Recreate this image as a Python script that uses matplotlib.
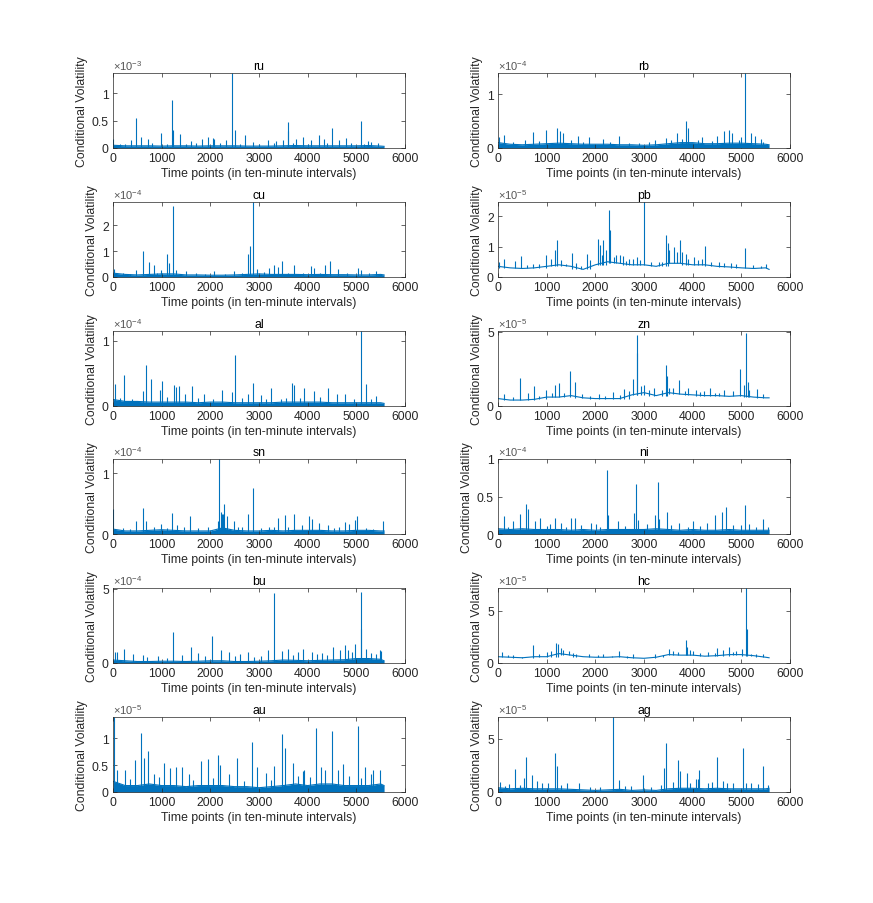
import numpy as np
import matplotlib.pyplot as plt

plt.rcParams['font.family'] = ['Liberation Sans', 'DejaVu Sans']
plt.rcParams['mathtext.fontset'] = 'custom'
plt.rcParams['mathtext.rm'] = 'Liberation Sans'
plt.rcParams['mathtext.it'] = 'Liberation Sans:italic'

BLUE = '#0072BD'
GREY = '#262626'
FS = 8.8

# baseline sample times (ten-minute index) for the slow part of each series
t_base = np.append(np.arange(0, 5501, 250), 5570)

# values are in units of 10^exp
ru_base = [0.05, 0.04, 0.04, 0.04, 0.035, 0.04, 0.04, 0.035, 0.04, 0.04, 0.04, 0.035,
           0.035, 0.035, 0.04, 0.045, 0.04, 0.04, 0.04, 0.04, 0.04, 0.045, 0.035, 0.03]
ru_t = [2440, 1210, 1228, 465, 3590, 3600, 5090, 4510, 2500, 990, 1375, 2715, 1950, 4225, 3900,
        3760, 4330, 718, 580, 3485, 4785, 4650, 2050, 1830, 2085, 3180, 4065, 2325, 5230, 5300,
        10, 360, 1600, 2870, 3355, 150, 250, 800, 1100, 1500, 1700, 2200, 2600, 3000, 3300,
        3700, 4000, 4400, 4900, 5150, 5450]
ru_h = [1.37, 0.88, 0.33, 0.55, 0.48, 0.31, 0.50, 0.37, 0.33, 0.28, 0.25, 0.23, 0.21, 0.23, 0.21,
        0.16, 0.17, 0.16, 0.20, 0.14, 0.18, 0.14, 0.19, 0.17, 0.17, 0.14, 0.15, 0.14, 0.13, 0.11,
        0.16, 0.14, 0.12, 0.11, 0.13, 0.08, 0.07, 0.09, 0.08, 0.07, 0.09, 0.10, 0.08, 0.07, 0.09,
        0.10, 0.08, 0.09, 0.10, 0.08, 0.09]

rb_base = [0.1, 0.07, 0.06, 0.07, 0.08, 0.09, 0.08, 0.07, 0.07, 0.07, 0.06, 0.06,
           0.05, 0.06, 0.08, 0.1, 0.1, 0.08, 0.08, 0.09, 0.09, 0.08, 0.07, 0.06]
rb_t = [5085, 3860, 3900, 1210, 1265, 1330, 990, 718, 4750, 4640, 4805, 3670, 2495, 1640, 1865,
        5195, 5285, 123, 20, 4510, 3450, 4200, 5000, 5400, 2150, 547, 3230,
        300, 850, 1500, 1750, 2300, 2700, 2900, 3100, 3550, 3780, 4100, 4400, 4950, 5450]
rb_h = [1.395, 0.51, 0.38, 0.38, 0.31, 0.28, 0.34, 0.30, 0.34, 0.31, 0.27, 0.28, 0.22, 0.23, 0.20,
        0.27, 0.23, 0.25, 0.20, 0.23, 0.19, 0.20, 0.21, 0.17, 0.17, 0.15, 0.15,
        0.12, 0.13, 0.14, 0.12, 0.11, 0.10, 0.10, 0.11, 0.14, 0.16, 0.14, 0.13, 0.15, 0.12]

cu_base = [0.15, 0.1, 0.08, 0.1, 0.12, 0.12, 0.08, 0.08, 0.07, 0.07, 0.08, 0.1,
           0.12, 0.1, 0.1, 0.1, 0.09, 0.1, 0.09, 0.09, 0.08, 0.08, 0.1, 0.08]
cu_t = [2870, 1230, 2815, 2770, 615, 1107, 1150, 738, 840, 3465, 4465, 3710, 4355, 4065, 4135,
        3300, 3390, 3205, 2960, 5025, 4615, 5105, 990, 1300, 478, 20, 1505, 2495, 5410, 2085,
        200, 350, 900, 1700, 1900, 2300, 2650, 3100, 3600, 3900, 4250, 4800, 5250]
cu_h = [2.9, 2.76, 1.19, 0.88, 1.02, 0.90, 0.55, 0.59, 0.45, 0.63, 0.63, 0.45, 0.48, 0.41, 0.36,
        0.45, 0.39, 0.36, 0.32, 0.36, 0.32, 0.28, 0.28, 0.26, 0.28, 0.32, 0.23, 0.23, 0.23, 0.23,
        0.15, 0.13, 0.16, 0.14, 0.12, 0.13, 0.15, 0.18, 0.17, 0.16, 0.15, 0.16, 0.14]

pb_base = [0.35, 0.3, 0.28, 0.3, 0.35, 0.4, 0.35, 0.25, 0.4, 0.5, 0.45, 0.4,
           0.4, 0.35, 0.45, 0.45, 0.4, 0.4, 0.35, 0.33, 0.3, 0.28, 0.3, 0.25]
pb_t = [2995, 2290, 2300, 3450, 3740, 1215, 2050, 2165, 1180, 3485, 2100, 4260, 5080, 3610, 1518,
        3520, 3685, 2220, 2130, 990, 1820, 2425, 2500, 2850, 2700, 3860, 3780, 4030, 465, 123,
        340, 1080, 1285, 1900, 4200, 4545, 4785, 5500, 2630, 3315, 1390, 718, 20,
        600, 850, 1600, 1700, 2380, 2560, 2780, 2920, 3150, 3380, 3900, 4100, 4380, 4650, 4900,
        5250, 5400]
pb_h = [2.46, 2.19, 1.53, 1.39, 1.22, 1.22, 1.26, 1.20, 0.87, 1.10, 1.04, 1.02, 0.96, 0.98, 0.79,
        0.87, 0.82, 0.87, 0.71, 0.73, 0.77, 0.73, 0.73, 0.66, 0.60, 0.77, 0.82, 0.66, 0.68, 0.60,
        0.52, 0.60, 0.55, 0.57, 0.60, 0.49, 0.46, 0.44, 0.52, 0.49, 0.44, 0.44, 0.49,
        0.40, 0.42, 0.45, 0.35, 0.65, 0.70, 0.60, 0.55, 0.50, 0.50, 0.60, 0.55, 0.48, 0.45, 0.42,
        0.38, 0.35]

al_base = [0.1, 0.07, 0.07, 0.06, 0.06, 0.06, 0.06, 0.05, 0.06, 0.06, 0.05, 0.05,
           0.05, 0.05, 0.06, 0.06, 0.06, 0.06, 0.05, 0.05, 0.05, 0.05, 0.05, 0.04]
al_t = [5090, 2510, 670, 225, 40, 785, 1005, 1250, 1300, 1360, 1620, 2880, 3670, 3725, 3245,
        2240, 2450, 5195, 4410, 4765, 3930, 4135, 957, 615, 1880, 1470, 3040, 5400, 4600, 2770,
        150, 400, 1100, 1750, 2050, 2650, 3150, 3450, 3550, 3850, 4250, 4950, 5300]
al_h = [1.15, 0.78, 0.63, 0.48, 0.34, 0.42, 0.39, 0.32, 0.29, 0.30, 0.30, 0.35, 0.35, 0.32, 0.28,
        0.25, 0.22, 0.33, 0.27, 0.19, 0.27, 0.23, 0.25, 0.23, 0.19, 0.19, 0.17, 0.15, 0.19, 0.18,
        0.12, 0.10, 0.14, 0.12, 0.10, 0.12, 0.11, 0.10, 0.13, 0.12, 0.14, 0.10, 0.11]

zn_base = [0.5, 0.4, 0.4, 0.45, 0.6, 0.6, 0.7, 0.55, 0.5, 0.5, 0.5, 0.75,
           0.9, 0.7, 0.9, 0.8, 0.75, 0.7, 0.7, 0.65, 0.7, 0.6, 0.55, 0.55]
zn_t = [5090, 2855, 2865, 3460, 3475, 4975, 1475, 445, 1580, 2775, 2995, 3725, 1245, 1175, 730,
        3210, 4065, 4360, 2590, 5330, 5130, 990, 2360, 4650, 4240, 3895, 1730, 615, 123, 2085,
        3370, 4820, 5160, 2940, 3520,
        300, 850, 1100, 1350, 1900, 2200, 2500, 2700, 3100, 3600, 3850, 4150, 4450, 4550, 5050,
        5450]
zn_h = [4.9, 4.78, 3.6, 2.78, 2.04, 2.49, 2.33, 1.89, 1.60, 1.82, 1.44, 1.78, 1.56, 1.44, 1.38,
        1.22, 1.10, 1.20, 1.16, 1.16, 1.60, 1.07, 0.93, 1.10, 1.00, 1.22, 0.84, 0.89, 0.78, 0.78,
        1.07, 1.00, 1.10, 1.33, 1.22,
        0.6, 0.7, 0.9, 0.85, 0.7, 0.7, 0.75, 1.0, 1.1, 1.2, 1.0, 0.95, 0.9, 0.85, 1.4, 0.8]

sn_base = [0.08, 0.05, 0.05, 0.06, 0.07, 0.06, 0.05, 0.05, 0.05, 0.1, 0.06, 0.05,
           0.05, 0.06, 0.05, 0.06, 0.06, 0.06, 0.05, 0.05, 0.06, 0.06, 0.05, 0.05]
sn_t = [2185, 2870, 2290, 2240, 615, 1210, 1585, 2340, 2780, 3710, 3535, 3385, 4020, 5010, 4975,
        5, 685, 478, 1310, 980, 2480, 2575, 4240, 4080, 4410, 4765, 4855, 5555, 3875, 1950,
        3200, 2150, 2215, 2270,
        200, 350, 850, 1100, 1450, 1750, 2650, 3050, 3300, 3600, 4550, 4650, 5200, 5350]
sn_h = [1.23, 0.76, 0.50, 0.33, 0.43, 0.34, 0.29, 0.29, 0.32, 0.33, 0.31, 0.27, 0.30, 0.29, 0.23,
        0.41, 0.22, 0.21, 0.15, 0.16, 0.21, 0.12, 0.18, 0.25, 0.15, 0.19, 0.16, 0.22, 0.15, 0.12,
        0.11, 0.21, 0.36, 0.32,
        0.10, 0.09, 0.11, 0.10, 0.12, 0.10, 0.12, 0.10, 0.11, 0.12, 0.10, 0.11, 0.10, 0.09]

ni_base = [0.07, 0.06, 0.07, 0.06, 0.06, 0.06, 0.05, 0.06, 0.05, 0.06, 0.06, 0.06,
           0.06, 0.07, 0.06, 0.05, 0.06, 0.05, 0.05, 0.06, 0.05, 0.05, 0.05, 0.05]
ni_t = [2235, 3295, 2845, 580, 5080, 620, 4695, 3470, 4600, 2790, 4465, 3225, 445, 123, 855,
        1505, 1585, 1175, 2270, 2880, 3310, 5450, 4285, 4010, 3725, 1915, 2015, 1300, 1060, 752,
        308, 2460, 5160, 4835, 3060,
        200, 1000, 1400, 1700, 2100, 2600, 3550, 3900, 4150, 5000, 5300, 5550]
ni_h = [0.86, 0.69, 0.67, 0.40, 0.39, 0.34, 0.36, 0.29, 0.30, 0.28, 0.25, 0.26, 0.27, 0.24, 0.21,
        0.22, 0.21, 0.21, 0.25, 0.19, 0.20, 0.20, 0.15, 0.17, 0.15, 0.15, 0.14, 0.15, 0.13, 0.18,
        0.17, 0.17, 0.14, 0.12, 0.13,
        0.10, 0.11, 0.10, 0.12, 0.10, 0.11, 0.12, 0.10, 0.11, 0.12, 0.10, 0.09]

bu_base = [0.2, 0.15, 0.1, 0.1, 0.12, 0.12, 0.1, 0.12, 0.15, 0.15, 0.1, 0.1,
           0.12, 0.15, 0.2, 0.18, 0.15, 0.18, 0.2, 0.22, 0.3, 0.3, 0.25, 0.15]
bu_t = [3315, 5090, 1235, 2030, 5100, 4975, 4765, 225, 48, 90, 1605, 2770, 3190, 3590, 3895,
        4520, 4670, 5200, 5490, 5515, 1745, 2210, 2390, 410, 1415, 3470, 4080, 4285, 3810, 2600,
        4920, 4835, 615, 920,
        700, 1100, 1900, 2500, 2900, 3050, 3700, 4200, 4400, 5300, 5400]
bu_h = [4.71, 4.78, 2.09, 1.79, 2.30, 1.30, 1.19, 0.96, 0.74, 0.74, 1.08, 0.74, 0.90, 0.96, 0.96,
        1.08, 0.90, 0.96, 0.85, 0.81, 0.67, 0.90, 0.74, 0.58, 0.52, 0.81, 0.74, 0.67, 0.74, 0.63,
        0.74, 0.85, 0.52, 0.45,
        0.40, 0.35, 0.45, 0.50, 0.40, 0.45, 0.55, 0.60, 0.55, 0.65, 0.60]

hc_base = [0.6, 0.55, 0.5, 0.6, 0.6, 0.9, 0.75, 0.6, 0.55, 0.55, 0.6, 0.5,
           0.45, 0.55, 0.8, 0.75, 0.75, 0.65, 0.7, 0.8, 0.8, 0.7, 0.55, 0.5]
hc_t = [5090, 5120, 3860, 1195, 1230, 725, 5010, 4750, 4510, 3505, 4615, 1345, 2495, 1880, 1005,
        1095, 4000, 4305, 3690, 2165, 2780, 3235, 90, 308, 1605, 4820, 5435, 5195, 3890,
        200, 500, 850, 1300, 1450, 1550, 2050, 2350, 2650, 3400, 3600, 3950, 4150, 4450, 4900,
        5300]
hc_h = [7.15, 3.26, 2.15, 1.90, 1.84, 1.68, 1.36, 1.52, 1.46, 1.36, 1.27, 1.20, 1.14, 0.89, 1.04,
        1.14, 1.14, 1.04, 1.04, 0.82, 0.82, 0.89, 1.01, 0.73, 0.89, 1.04, 0.82, 0.89, 1.52,
        0.8, 0.6, 0.9, 1.4, 1.1, 1.0, 0.75, 0.7, 0.7, 0.8, 1.1, 1.2, 1.0, 0.95, 1.1, 0.9]

au_base = [0.2, 0.12, 0.12, 0.15, 0.12, 0.12, 0.1, 0.12, 0.12, 0.12, 0.1, 0.1,
           0.08, 0.1, 0.12, 0.15, 0.12, 0.15, 0.15, 0.12, 0.12, 0.12, 0.15, 0.12]
au_t = [15, 5025, 4170, 4510, 580, 3465, 2850, 3540, 718, 2155, 630, 2550, 1950, 458, 1045,
        1810, 3705, 3315, 2960, 4270, 4735, 5175, 5350, 5490, 1180, 1415, 1285, 2200, 240, 90,
        3145, 3930, 4615, 4355, 2390, 1570, 840, 3895, 5300,
        350, 950, 1650, 2050, 2700, 3250, 3800, 4050, 4850, 5100]
au_h = [1.40, 1.23, 1.20, 1.14, 1.11, 1.09, 0.93, 0.83, 0.76, 0.70, 0.64, 0.63, 0.61, 0.59, 0.55,
        0.58, 0.55, 0.48, 0.46, 0.47, 0.53, 0.47, 0.41, 0.42, 0.44, 0.46, 0.47, 0.50, 0.42, 0.42,
        0.36, 0.42, 0.41, 0.41, 0.34, 0.33, 0.34, 0.39, 0.34,
        0.25, 0.28, 0.22, 0.26, 0.20, 0.22, 0.30, 0.28, 0.30, 0.26]

ag_base = [0.4, 0.3, 0.35, 0.3, 0.3, 0.3, 0.25, 0.2, 0.15, 0.2, 0.25, 0.15,
           0.2, 0.15, 0.3, 0.35, 0.35, 0.3, 0.35, 0.3, 0.3, 0.3, 0.3, 0.35]
ag_t = [2370, 3450, 5025, 1175, 580, 4510, 3690, 5450, 1210, 3420, 350, 4135, 3875, 2975, 3730,
        697, 533, 35, 805, 1025, 4065, 4100, 4615, 4835, 5195, 5350, 2480, 1415, 1660, 2735,
        4305, 225, 3355,
        150, 450, 900, 1300, 1900, 2100, 2600, 3150, 3600, 3950, 4400, 4700, 5100, 5550]
ag_h = [7.05, 4.62, 4.15, 3.67, 3.26, 3.26, 3.00, 2.47, 2.40, 2.25, 2.15, 2.06, 1.77, 1.58, 2.00,
        1.58, 1.27, 0.98, 1.04, 0.89, 1.20, 1.20, 1.04, 0.89, 0.89, 0.73, 1.11, 0.89, 0.82, 0.57,
        0.89, 0.73, 0.63,
        0.6, 0.7, 0.8, 0.7, 0.5, 0.5, 0.6, 0.5, 0.9, 0.8, 0.9, 0.8, 0.8, 0.7]

names = ['ru', 'rb', 'cu', 'pb', 'al', 'zn', 'sn', 'ni', 'bu', 'hc', 'au', 'ag']
exps = [-3, -4, -4, -5, -4, -5, -4, -4, -4, -5, -5, -5]
ytops = [1.37, 1.395, 2.9, 2.46, 1.15, 5.05, 1.23, 1.0, 5.05, 7.15, 1.4, 7.05]
yticks = [[0, 0.5, 1], [0, 1], [0, 1, 2], [0, 1, 2], [0, 1], [0, 5],
          [0, 1], [0, 0.5, 1], [0, 5], [0, 5], [0, 0.5, 1], [0, 5]]
# smooth series have spikes rising from the base line, the rest from zero
smooth = [False, False, False, True, False, True, False, False, False, True, False, False]
bases = [ru_base, rb_base, cu_base, pb_base, al_base, zn_base,
         sn_base, ni_base, bu_base, hc_base, au_base, ag_base]
spike_t = [ru_t, rb_t, cu_t, pb_t, al_t, zn_t, sn_t, ni_t, bu_t, hc_t, au_t, ag_t]
spike_h = [ru_h, rb_h, cu_h, pb_h, al_h, zn_h, sn_h, ni_h, bu_h, hc_h, au_h, ag_h]

W, H = 873, 904
fig = plt.figure(figsize=(W / 100, H / 100), dpi=100)
lefts = [113, 498]
tops = [74, 203, 332, 460, 589, 718]
aw, ah = 292, 75

for i, name in enumerate(names):
    r, c = divmod(i, 2)
    ax = fig.add_axes([lefts[c] / W, 1 - (tops[r] + ah) / H, aw / W, ah / H])
    sc = 10.0 ** exps[i]
    base = np.array(bases[i]) * sc
    st = np.array(spike_t[i])
    sh = np.array(spike_h[i]) * sc
    if smooth[i]:
        # foot of each spike: lower of the two neighbouring base samples
        k = np.searchsorted(t_base, st).clip(1, len(t_base) - 1)
        foot = np.minimum(base[k - 1], base[k])
    else:
        ax.fill_between(t_base, 0, base, color=BLUE, lw=0)
        foot = 0
    ax.plot(t_base, base, color=BLUE, lw=0.8)
    ax.vlines(st, foot, sh, color=BLUE, lw=0.8)

    ax.set_xlim(0, 6000)
    ax.set_ylim(0, ytops[i] * sc)
    ax.set_xticks(range(0, 6001, 1000))
    ax.set_yticks([v * sc for v in yticks[i]])
    ax.set_yticklabels(['%g' % v for v in yticks[i]])
    ax.tick_params(direction='in', top=True, right=True, length=3, width=0.5,
                   labelsize=FS, colors=GREY, pad=3)
    for s in ax.spines.values():
        s.set_linewidth(0.5)
        s.set_color(GREY)
    ax.set_title(name, fontsize=FS, pad=3, color='black')
    ax.set_xlabel('Time points (in ten-minute intervals)', fontsize=FS, color=GREY, labelpad=2)
    ax.set_ylabel('Conditional Volatility', fontsize=FS, color=GREY, labelpad=3)
    ax.text(0, 1.01, r'$\times\mathregular{10^{%d}}$' % exps[i], transform=ax.transAxes,
            ha='left', va='bottom', fontsize=8, color='#555555')

fig.savefig('out.png', dpi=100)
